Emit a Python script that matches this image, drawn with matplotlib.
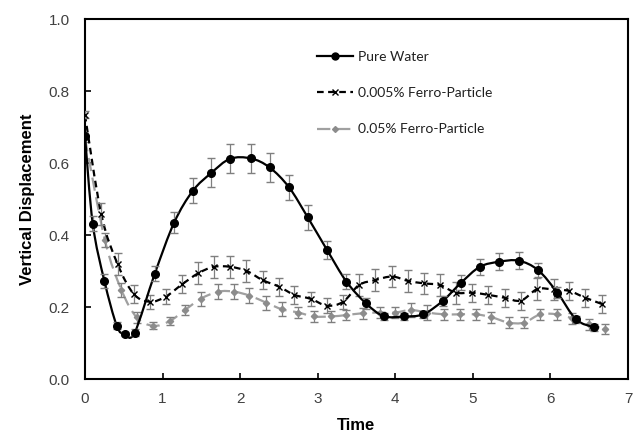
import numpy as np
import matplotlib
matplotlib.use("Agg")
import matplotlib.pyplot as plt
from matplotlib.path import Path
from matplotlib.patches import PathPatch
from matplotlib.lines import Line2D

# Pure Water
t_water = [0, 0.10, 0.25, 0.41, 0.51, 0.64, 0.90, 1.15, 1.39, 1.63, 1.87, 2.14, 2.38, 2.63, 2.87,
           3.12, 3.37, 3.62, 3.85, 4.11, 4.36, 4.61, 4.85, 5.09, 5.34, 5.59, 5.84, 6.09, 6.33, 6.56]
y_water = [0.677, 0.433, 0.274, 0.149, 0.126, 0.13, 0.294, 0.436, 0.524, 0.574, 0.613, 0.614, 0.589, 0.534, 0.451,
           0.36, 0.272, 0.212, 0.176, 0.175, 0.181, 0.218, 0.269, 0.313, 0.327, 0.33, 0.304, 0.241, 0.167, 0.145]
e_water = [0.0, 0.02, 0.02, 0.01, 0.005, 0.01, 0.02, 0.03, 0.035, 0.04, 0.04, 0.04, 0.04, 0.035, 0.035,
           0.025, 0.02, 0.015, 0.01, 0.01, 0.01, 0.015, 0.02, 0.022, 0.023, 0.023, 0.02, 0.015, 0.01, 0.01]

# 0.005% Ferro-Particle
t_low = [0, 0.21, 0.42, 0.63, 0.84, 1.04, 1.25, 1.46, 1.66, 1.87, 2.08, 2.29, 2.50, 2.70, 2.91, 3.12, 3.33,
         3.53, 3.74, 3.96, 4.16, 4.37, 4.58, 4.78, 4.99, 5.20, 5.41, 5.62, 5.83, 6.04, 6.24, 6.45, 6.66]
y_low = [0.735, 0.459, 0.321, 0.237, 0.216, 0.23, 0.264, 0.295, 0.313, 0.313, 0.302, 0.276, 0.258, 0.235, 0.224, 0.205, 0.216,
         0.262, 0.276, 0.286, 0.274, 0.267, 0.262, 0.241, 0.241, 0.235, 0.227, 0.219, 0.251, 0.25, 0.246, 0.227, 0.21]
e_low = [0.01, 0.03, 0.03, 0.025, 0.02, 0.02, 0.025, 0.03, 0.03, 0.03, 0.03, 0.025, 0.025, 0.025, 0.02, 0.02, 0.02,
         0.03, 0.03, 0.03, 0.03, 0.03, 0.03, 0.03, 0.025, 0.025, 0.025, 0.025, 0.03, 0.03, 0.025, 0.025, 0.025]

# 0.05% Ferro-Particle
t_high = [0, 0.257, 0.47, 0.665, 0.88, 1.09, 1.29, 1.49, 1.72, 1.92, 2.12, 2.34, 2.54, 2.75, 2.95, 3.17, 3.37,
          3.58, 3.80, 4.00, 4.20, 4.41, 4.63, 4.83, 5.04, 5.24, 5.46, 5.66, 5.87, 6.08, 6.28, 6.50, 6.70]
y_high = [0.67, 0.387, 0.249, 0.173, 0.149, 0.162, 0.193, 0.224, 0.244, 0.244, 0.233, 0.213, 0.195, 0.186, 0.175, 0.175, 0.179,
          0.184, 0.186, 0.186, 0.193, 0.186, 0.181, 0.181, 0.181, 0.173, 0.158, 0.158, 0.181, 0.181, 0.17, 0.153, 0.14]
e_high = [0.01, 0.02, 0.02, 0.015, 0.01, 0.012, 0.015, 0.02, 0.02, 0.02, 0.02, 0.02, 0.02, 0.015, 0.015, 0.015, 0.015,
          0.015, 0.015, 0.015, 0.02, 0.02, 0.015, 0.015, 0.015, 0.015, 0.015, 0.015, 0.015, 0.015, 0.015, 0.015, 0.015]


def smooth_path(x, y):
    # Bezier segments like the spreadsheet "smoothed line" option
    p = np.column_stack((x, y)).astype(float)
    n = len(p)
    verts = [p[0]]
    codes = [Path.MOVETO]
    for i in range(n - 1):
        p0 = p[i - 1] if i > 0 else p[i]
        p1, p2 = p[i], p[i + 1]
        p3 = p[i + 2] if i + 2 < n else p[i + 1]
        verts += [p1 + (p2 - p0) / 6, p2 - (p3 - p1) / 6, p2]
        codes += [Path.CURVE4] * 3
    return Path(verts, codes)


fig = plt.figure(figsize=(6.36, 4.33), dpi=100)
ax = fig.add_axes([0.1336, 0.1236, 0.8538, 0.8314])

bar_col = '#7f7f7f'
gray = '#a0a0a0'

# 0.05%
ax.add_patch(PathPatch(smooth_path(t_high, y_high), fill=False, edgecolor=gray, lw=1.6,
                       linestyle=(0, (6, 3)), zorder=2))
ax.errorbar(t_high, y_high, yerr=e_high, fmt='none', ecolor=bar_col, elinewidth=0.9, capsize=3, zorder=3)
ax.plot(t_high, y_high, ls='none', marker='D', ms=3.2, color='#8c8c8c', zorder=4)

# 0.005%
ax.add_patch(PathPatch(smooth_path(t_low, y_low), fill=False, edgecolor='black', lw=1.6,
                       linestyle=(0, (3, 2)), zorder=5))
ax.errorbar(t_low, y_low, yerr=e_low, fmt='none', ecolor=bar_col, elinewidth=0.9, capsize=3, zorder=6)
ax.plot(t_low, y_low, ls='none', marker='x', ms=5, mew=1.0, color='black', zorder=7)

# Pure Water
ax.add_patch(PathPatch(smooth_path(t_water, y_water), fill=False, edgecolor='black', lw=1.6, zorder=8))
ax.errorbar(t_water, y_water, yerr=e_water, fmt='none', ecolor=bar_col, elinewidth=0.9, capsize=3, zorder=9)
ax.plot(t_water, y_water, ls='none', marker='o', ms=5.5, color='black', zorder=10)

ax.set_xlim(0, 7)
ax.set_ylim(0, 1.0)
ax.set_xticks(range(8))
ax.set_yticks(np.arange(0, 1.01, 0.2))
ax.set_yticklabels([f'{v:.1f}' for v in np.arange(0, 1.01, 0.2)])
ax.tick_params(direction='in', length=4, width=1.2, labelsize=11, labelcolor='#404040',
               top=False, right=False)
ax.tick_params(axis='y', pad=11)
ax.tick_params(axis='x', pad=9)
for s in ax.spines.values():
    s.set_linewidth(1.5)
    s.set_color('black')

lab_font = dict(family='Liberation Sans', fontsize=12, fontweight='bold')
ax.set_xlabel('Time', labelpad=9, **lab_font)
ax.set_ylabel('Vertical Displacement', labelpad=10, **lab_font)
for lbl in ax.get_xticklabels() + ax.get_yticklabels():
    lbl.set_family('Liberation Sans')

handles = [
    Line2D([], [], color='black', lw=1.6, marker='o', ms=5),
    Line2D([], [], color='black', lw=1.6, ls=(0, (3, 2)), marker='x', ms=5, mew=1.0),
    Line2D([], [], color=gray, lw=1.6, ls=(0, (6, 3)), marker='D', ms=3, mfc='#8c8c8c', mec='#8c8c8c'),
]
labels = ['Pure Water', '0.005% Ferro-Particle', '0.05% Ferro-Particle']
ax.legend(handles, labels, loc='upper left', bbox_to_anchor=(0.427, 0.913), frameon=False,
          prop=dict(family='Lato', size=10), handlelength=2.6, handletextpad=0.35,
          labelspacing=1.75, borderpad=0, borderaxespad=0, labelcolor='#202020')

fig.savefig('out.png', dpi=100)
